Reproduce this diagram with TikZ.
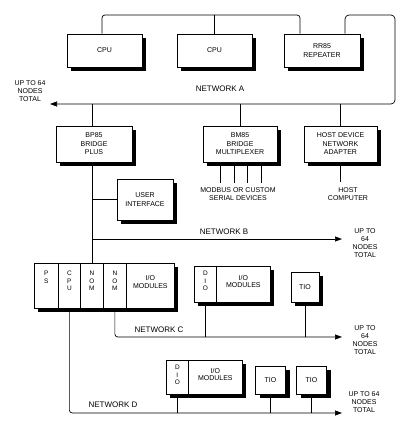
\documentclass[tikz,border=0pt]{standalone}
\usepackage{fontspec}
\setmainfont{Liberation Sans}
\usetikzlibrary{positioning,shadows,arrows.meta}

\begin{document}
\begin{tikzpicture}
        % 样式: 带阴影的方框, 槽位, 竖排字母, 网络名称, 侧边说明, 箭头
        [x=1pt,y=-1pt,line width=0.7pt,
        BoxNode/.style={rectangle,draw=black,fill=white,inner sep=0pt,align=center,font=\fontsize{7}{8.5}\selectfont,
            drop shadow={shadow xshift=4pt,shadow yshift=-4pt,fill=black,opacity=1}},
        SlotNode/.style={rectangle,draw=black,fill=white,inner sep=0pt,anchor=north west},
        LetterNode/.style={inner sep=0pt,align=center,font=\fontsize{6.5}{7.5}\selectfont},
        BoxText/.style={inner sep=0pt,align=center,font=\fontsize{7}{7.5}\selectfont},
        NetLabel/.style={inner sep=0pt,font=\fontsize{8}{9.6}\selectfont},
        SideLabel/.style={inner sep=0pt,align=center,font=\fontsize{7}{8}\selectfont},
        NetArrow/.style={-{Triangle[length=7pt,width=5pt]}}]

        \useasboundingbox (0,0) rectangle (405,430);

        % 顶部: 两个CPU和RR85
        \foreach \x/\c in {1/104.5,2/214.5}
        \node[BoxNode,minimum width=75,minimum height=33] (cpu_\x) at (\c,50.5) {CPU};
        \node[BoxNode,minimum width=76,minimum height=33] (rr_1) at (322,50.5) {RR85\\REPEATER};

        % 网络A下面的三个方框
        \node[BoxNode,minimum width=76,minimum height=36] (bp_1) at (94,144) {BP85\\BRIDGE\\PLUS};
        \node[BoxNode,minimum width=74,minimum height=36] (bm_1) at (240,144) {BM85\\BRIDGE\\MULTIPLEXER};
        \node[BoxNode,minimum width=73,minimum height=36] (host_1) at (340.5,144) {HOST DEVICE\\NETWORK\\ADAPTER};
        \node[BoxNode,minimum width=56,minimum height=41] (ui_1) at (145,199.5) {USER\\INTERFACE};

        % 机架: PS, CPU, NOM, NOM, I/O
        \node[BoxNode,anchor=north west,minimum width=140,minimum height=45] (rack) at (34,263) {};
        \foreach \l/\w/\n/\t in {34/24/ps/{P\\S},58/22/cpu/{C\\P\\U},80/23/noma/{N\\O\\M},103/23/nomb/{N\\O\\M}}{
        \node[SlotNode,minimum width=\w,minimum height=45] (r_\n) at (\l,263) {};
        \node[LetterNode,below=8pt of r_\n.north] {\t};
        }
        \node[SlotNode,minimum width=48,minimum height=45] (r_io) at (126,263) {};
        \node[BoxText] at ([yshift=4pt]r_io.center) {I/O\\MODULES};

        % DIO方框
        \foreach \x/\l/\t/\h in {1/194/266/36,2/166/360/34}{
        \node[BoxNode,anchor=north west,minimum width=76,minimum height=\h] (dio_\x) at (\l,\t) {};
        \node[SlotNode,minimum width=22,minimum height=\h] (dio_\x_d) at (\l,\t) {};
        \node[LetterNode,below=5pt of dio_\x_d.north] {D\\I\\O};
        \node[BoxText] at ([xshift=11pt,yshift=3pt]dio_\x.center) {I/O\\MODULES};
        }

        % TIO方框
        \node[BoxNode,minimum width=28,minimum height=30] (tio_1) at (305,287) {TIO};
        \foreach \x/\c in {2/270.5,3/311.5}
        \node[BoxNode,minimum width=30,minimum height=28] (tio_\x) at (\c,380) {TIO};

        % 连线用的坐标
        \coordinate (top_l) at (102,15);
        \coordinate (top_r) at (300,15);
        \coordinate (loop_l) at (345,15);
        \coordinate (a_l) at (50,104);
        \coordinate (a_r) at (395,104);
        \coordinate (trunk) at (92,104);
        \coordinate (b_l) at (92,239);
        \coordinate (b_r) at (342,239);
        \coordinate (c_r) at (342,337);
        \coordinate (d_r) at (342,413);

        % 顶部总线
        \draw[rounded corners=3pt] (cpu_1.north -| top_l) -- (top_l) -- (top_r) -- (rr_1.north -| top_r);
        \draw (cpu_2.north) -- (cpu_2.north |- top_l);

        % 网络A
        \draw[NetArrow,rounded corners=4pt] (rr_1.north -| loop_l) -- (loop_l) -| (a_r) -- (a_l);
        \draw (trunk) -- (bp_1.north -| trunk);
        \draw (bm_1.north) -- (bm_1.north |- a_l);
        \draw (host_1.north) -- (host_1.north |- a_l);

        % BP85往下, 用户界面, 网络B
        \draw (bp_1.south -| trunk) -- (rack.north -| trunk);
        \draw (ui_1.west) -- (ui_1.west -| trunk);
        \draw[NetArrow] (b_l) -- (b_r);

        % 串口设备和主机
        \foreach \x in {220,234,247,261}
        \draw (bm_1.south -| \x,0) -- ++(0,21);
        \draw (host_1.south) -- ++(0,20);

        % 网络C
        \draw[NetArrow,rounded corners=3pt] (r_nomb.south) |- (c_r);
        \draw (dio_1_d.south) -- (dio_1_d.south |- c_r);
        \draw (tio_1.south) -- (tio_1.south |- c_r);

        % 网络D
        \draw[NetArrow,rounded corners=3pt] (r_cpu.south) |- (d_r);
        \draw (dio_2_d.south) -- (dio_2_d.south |- d_r);
        \foreach \x in {2,3}
        \draw (tio_\x.south) -- (tio_\x.south |- d_r);

        % 文字说明
        \node[SideLabel] (up_a) at (30,91) {UP TO 64\\NODES\\TOTAL};
        \node[NetLabel] (net_a) at (220,89) {NETWORK A};
        \node[SideLabel] (serial) at (238,194.5) {MODBUS OR CUSTOM\\SERIAL DEVICES};
        \node[SideLabel] (host_pc) at (348,194.5) {HOST\\COMPUTER};
        \node[NetLabel] (net_b) at (224,232) {NETWORK B};
        \node[SideLabel] (up_b) at (365,243) {UP TO\\64\\NODES\\TOTAL};
        \node[NetLabel] (net_c) at (159,330) {NETWORK C};
        \node[SideLabel] (up_c) at (365,340) {UP TO\\64\\NODES\\TOTAL};
        \node[NetLabel] (net_d) at (113,405) {NETWORK D};
        \node[SideLabel] (up_d) at (364,402) {UP TO 64\\NODES\\TOTAL};
    \end{tikzpicture}
\end{document}
